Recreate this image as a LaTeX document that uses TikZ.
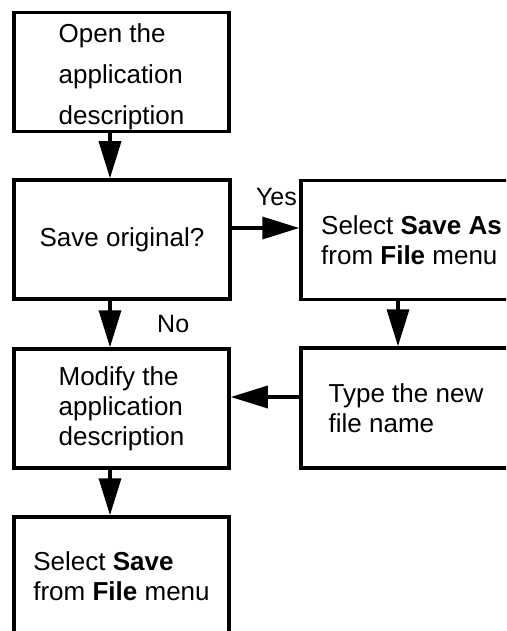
\documentclass[tikz,border=0pt]{standalone}
\usepackage{fontspec}
\setmainfont{Liberation Sans}
\usetikzlibrary{arrows.meta}

\tikzset{
	box/.style={draw, line width=3.5pt, minimum width=215pt, minimum height=119pt, align=left, inner sep=0pt, font=\fontsize{26}{30}\selectfont},
	lbl/.style={inner sep=0pt, font=\fontsize{25}{30}\selectfont},
	arr/.style={line width=3.5pt, -{Triangle[length=37pt,width=22pt]}}
}

\begin{document}
\begin{tikzpicture}[x=1pt, y=-1pt]
		%%%%% START %%%%%
		
		\clip (0, 0) rectangle (506, 631);
		
		\coordinate (llane) at (110, 0);
		\coordinate (rlane) at (398, 0);
		\coordinate (yesrow) at (0, 228);
		\coordinate (typerow) at (0, 397);
		
		\node[box] (open) at (121.5, 72) {\rule{0pt}{29pt}Open the\\[11pt]application\\[11pt]description};
		\node[box, minimum width=216pt] (saveq) at (122, 239.5) {Save original?};
		\node[box, minimum width=221pt] (saveas) at (411.5, 240) {Select \textbf{Save As}\\from \textbf{File} menu};
		
		\node[box] (modify) at (121.5, 408.5) {Modify the\\application\\description};
		\node[box, minimum width=210pt, minimum height=120pt] (type) at (406, 408) {Type the new\\file name};
		
		\node[box] (save) at (121.5, 576.5) {Select \textbf{Save}\\from \textbf{File} menu};
		
		\draw[arr] (open.south -| llane) -- (saveq.north -| llane);
		\draw[arr] (saveq.east |- yesrow) -- (saveas.west |- yesrow);
		\node[lbl, anchor=base east] (yes) at (297, 205) {Yes};
		
		\draw[arr] (saveq.south -| llane) -- (modify.north -| llane);
		\node[lbl, anchor=base west] (no) at (157, 332) {No};
		\draw[arr] (saveas.south -| rlane) -- (type.north -| rlane);
		\draw[arr] (type.west |- typerow) -- (modify.east |- typerow);
		
		\draw[arr] (modify.south -| llane) -- (save.north -| llane);
		
		%%%%% END %%%%%
\end{tikzpicture}
\end{document}
